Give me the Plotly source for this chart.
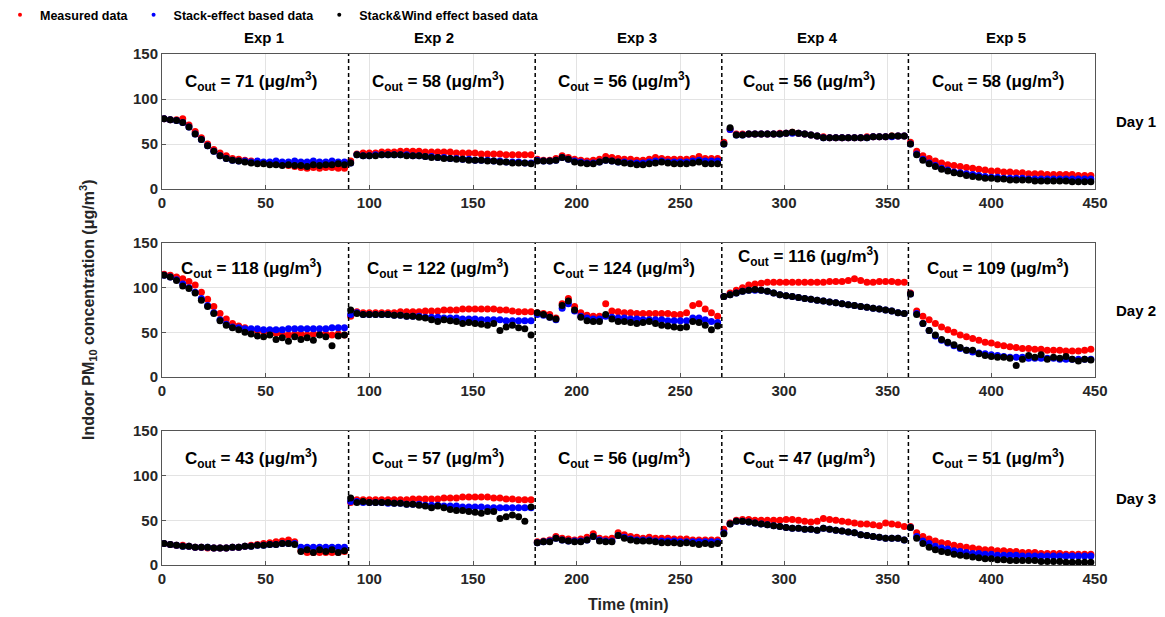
import plotly.graph_objects as go

# ---------------- data ----------------
time_min = list(range(1, 450, 3))  # sample times (min), 3-min steps

measured_day1 = [
    78,77,77,78,71,64,57,50,44,40,37,34,33,32,31,30,29,29,28,27,26,25,24,23,24,23,24,24,23,23,
    31,39,40,40,40,41,41,41,42,42,42,42,41,41,41,41,41,40,40,40,40,39,39,39,39,38,38,38,38,38,
    33,32,32,34,37,35,33,32,31,32,33,36,35,34,33,33,32,32,33,35,34,33,33,33,33,34,36,34,34,34,
    52,66,61,61,61,61,61,61,61,62,62,63,62,61,60,59,58,57,57,57,57,57,57,58,58,58,58,59,59,59,
    52,42,37,34,31,29,27,26,25,24,23,22,21,20,20,19,19,18,18,17,17,17,16,16,16,16,16,15,15,15]
stack_day1 = [
    78,77,76,74,69,61,55,48,42,37,34,32,31,31,30,31,30,30,31,30,30,31,30,30,31,30,30,31,30,30,
    29,38,37,37,38,38,38,38,38,38,37,37,36,36,35,35,34,34,33,33,32,32,32,31,31,30,30,30,29,29,
    32,31,31,32,35,33,31,30,29,29,30,32,31,30,30,29,29,29,30,31,31,30,30,30,30,31,32,31,31,31,
    50,66,60,60,61,61,61,61,61,61,62,62,62,61,60,59,57,57,57,57,57,57,57,57,58,58,58,58,59,59,
    50,39,33,29,26,23,21,19,18,17,16,15,14,13,13,12,12,12,12,11,11,11,11,11,11,11,11,11,11,11]
wind_day1 = [
    78,77,76,74,69,61,55,48,42,37,34,32,31,30,29,28,28,27,27,26,27,26,26,25,27,26,27,27,28,27,
    29,38,37,37,37,38,38,38,38,37,37,37,36,35,35,34,34,33,33,32,32,32,31,31,30,30,29,29,29,28,
    31,31,31,32,35,33,30,29,28,28,30,32,31,30,29,28,27,27,28,29,30,29,28,28,28,29,30,28,28,28,
    50,68,60,60,61,61,61,61,61,61,62,63,62,61,60,59,57,57,57,57,57,57,57,57,58,58,58,59,59,59,
    50,38,32,28,25,22,20,18,17,15,14,13,12,12,11,11,10,10,10,10,9,9,9,9,9,9,8,8,8,8]

measured_day2 = [
    115,114,112,110,107,103,95,87,79,71,65,60,57,55,53,52,51,50,49,48,47,48,48,47,48,48,48,47,48,47,
    68,73,72,72,72,72,72,72,73,73,73,73,74,74,74,75,75,75,76,76,76,76,76,76,75,75,74,73,73,73,
    72,71,70,66,82,88,79,72,69,68,68,82,74,73,72,72,71,71,71,71,71,71,70,70,72,80,82,76,72,68,
    90,94,97,100,103,104,105,106,106,106,106,106,106,106,106,106,106,107,107,107,108,110,108,106,106,107,107,107,106,106,
    94,74,68,64,60,56,53,50,47,45,43,41,39,38,36,35,34,33,32,32,31,31,30,30,30,29,29,29,30,31]
stack_day2 = [
    114,112,109,104,100,95,88,80,72,64,59,56,55,54,54,54,53,53,53,53,54,54,54,54,54,54,54,55,55,55,
    70,72,70,70,70,70,70,69,69,68,68,68,67,67,67,66,66,66,65,65,65,64,64,64,64,63,63,63,63,63,
    70,69,67,64,77,82,74,68,66,65,65,68,67,66,66,65,65,64,64,64,64,63,63,63,63,66,66,64,62,61,
    90,92,94,96,97,97,97,96,94,92,91,90,89,88,87,86,85,84,83,82,81,80,79,78,77,76,75,74,72,71,
    93,71,60,52,46,41,38,35,32,30,28,27,26,25,24,23,22,22,22,21,21,21,21,21,20,20,20,20,20,20]
wind_day2 = [
    114,112,108,102,99,94,86,79,71,63,58,55,53,50,48,46,45,47,42,44,40,45,42,44,41,47,45,35,46,47,
    75,71,70,70,70,70,70,69,69,68,68,67,66,64,62,64,63,62,60,61,60,59,58,60,52,56,58,55,54,47,
    72,70,67,65,80,85,75,67,63,62,62,70,65,62,62,61,60,61,62,60,58,57,56,55,56,62,61,58,53,57,
    90,92,94,96,97,98,97,96,94,92,91,90,89,88,87,86,85,84,83,82,81,80,79,78,77,76,75,74,72,71,
    93,70,60,52,47,42,39,36,33,30,30,26,24,23,22,22,21,13,20,24,22,25,20,22,21,23,20,18,20,19]

measured_day3 = [
    24,23,22,22,21,20,20,19,19,19,19,20,20,21,22,23,24,25,26,27,28,26,16,14,14,14,14,14,14,15,
    70,73,73,73,73,73,73,73,73,73,74,74,74,74,74,75,75,75,76,76,76,76,76,75,75,74,74,73,73,73,
    26,27,28,32,30,29,28,29,31,35,30,29,30,36,34,32,31,30,31,30,30,30,29,29,29,28,28,28,28,28,
    40,47,50,51,51,50,50,50,50,50,51,51,50,49,48,49,52,51,50,49,48,47,46,46,45,44,47,46,45,43,
    43,36,32,29,27,25,24,22,21,20,19,18,17,17,16,16,15,15,14,14,14,13,13,13,13,12,12,12,12,12]
stack_day3 = [
    24,23,22,21,21,20,20,20,19,19,19,20,20,21,21,22,22,23,23,24,24,24,20,20,20,20,20,20,20,20,
    71,71,70,70,70,70,69,69,69,68,68,68,67,67,67,66,66,66,65,65,65,65,64,64,64,64,64,64,64,64,
    25,26,27,30,28,27,27,27,28,32,28,27,27,33,31,29,28,28,28,27,27,27,27,26,26,26,26,26,26,26,
    36,46,49,49,48,47,46,45,44,43,42,41,41,40,40,39,41,40,39,38,37,36,34,33,32,31,30,30,30,28,
    42,32,27,24,21,19,18,16,15,14,13,13,12,12,11,11,11,11,10,10,10,10,10,10,10,10,10,10,10,10]
wind_day3 = [
    24,23,22,21,21,20,20,20,19,19,19,20,20,21,21,22,22,23,23,24,24,23,15,17,14,17,15,17,14,16,
    75,70,71,70,70,70,70,69,69,68,68,67,66,64,66,64,62,61,61,60,59,58,60,60,52,54,56,54,49,65,
    25,26,26,30,28,27,26,26,28,32,27,26,26,33,30,28,27,27,27,26,25,25,25,24,25,24,23,24,23,24,
    35,46,49,49,48,47,46,45,44,43,42,41,41,40,40,39,41,40,39,38,37,36,34,33,32,31,30,30,30,28,
    42,30,24,20,17,15,14,12,11,10,9,8,7,7,6,6,5,5,5,5,5,4,4,4,4,3,3,3,3,3]

day_labels = ["Day 1", "Day 2", "Day 3"]
exp_labels = ["Exp 1", "Exp 2", "Exp 3", "Exp 4", "Exp 5"]
exp_label_x = [49, 131, 229, 316, 407]
exp_bounds = [90, 180, 270, 360]
cout_day1 = [71, 58, 56, 56, 58]
cout_day2 = [118, 122, 124, 116, 109]
cout_day3 = [43, 57, 56, 47, 51]
cout_x = [43, 133, 223, 312, 403]
cout_y_day1 = [119, 119, 119, 119, 119]
cout_y_day2 = [121, 121, 121, 135, 121]
cout_y_day3 = [119, 119, 119, 119, 119]
x_ticks = [0, 50, 100, 150, 200, 250, 300, 350, 400, 450]
y_ticks = [0, 50, 100, 150]
series_names = ["Measured data", "Stack-effect based data", "Stack&Wind effect based data"]
series_colors = ["#ff0000", "#0000ff", "#000000"]

# ---------------- figure ----------------
W, H = 1165, 617
ML, MR, MT, MB = 162, 70, 54, 52
PH = H - MT - MB
PW = W - ML - MR

def py(pix):  # pixel row -> paper y
    return (H - MB - pix) / PH

def px(pix):  # pixel column -> paper x
    return (pix - ML) / PW

panel_px = [(54, 189), (243, 377), (431, 565)]
font_family = "Liberation Sans, Arial, sans-serif"

fig = go.Figure()
days_data = [
    (measured_day1, stack_day1, wind_day1),
    (measured_day2, stack_day2, wind_day2),
    (measured_day3, stack_day3, wind_day3),
]
for i, series in enumerate(days_data):
    xa = "x" if i == 0 else f"x{i+1}"
    ya = "y" if i == 0 else f"y{i+1}"
    for vals, name, col in zip(series, series_names, series_colors):
        fig.add_trace(go.Scatter(
            x=time_min, y=vals, mode="markers", name=name,
            marker=dict(color=col, size=7, line=dict(width=0)),
            xaxis=xa, yaxis=ya, showlegend=False))

# legend-only traces with small dots
for name, col in zip(series_names, series_colors):
    fig.add_trace(go.Scatter(x=[None], y=[None], mode="markers", name=name,
                             marker=dict(color=col, size=4), showlegend=True))

axis_common = dict(
    showline=True, mirror=True, linecolor="#555555", linewidth=1,
    showgrid=True, gridcolor="#e3e3e3", gridwidth=1, zeroline=False,
    ticks="inside", ticklen=4, tickcolor="#555555",
    tickfont=dict(family=font_family, size=15, color="#262626", weight="bold"),
)
layout = dict(
    width=W, height=H,
    margin=dict(l=ML, r=MR, t=MT, b=MB, pad=0, autoexpand=False),
    paper_bgcolor="white", plot_bgcolor="white",
    font=dict(family=font_family, color="black"),
    legend=dict(orientation="h", x=px(0), xanchor="left", y=py(15), yanchor="middle",
                font=dict(family=font_family, size=12.5, color="black", weight="bold"),
                bgcolor="rgba(0,0,0,0)", itemwidth=30, tracegroupgap=0),
)
for i, (top, bot) in enumerate(panel_px):
    sfx = "" if i == 0 else str(i + 1)
    layout["xaxis" + sfx] = dict(axis_common, domain=[0, 1], range=[0, 450],
                                 tickvals=x_ticks, anchor="y" + sfx)
    layout["yaxis" + sfx] = dict(axis_common, domain=[py(bot), py(top)], range=[0, 150],
                                 tickvals=y_ticks, anchor="x" + sfx)
fig.update_layout(**layout)

# dashed separators between experiments
for i in range(3):
    sfx = "" if i == 0 else str(i + 1)
    for b in exp_bounds:
        fig.add_shape(type="line", x0=b, x1=b, y0=0, y1=150, xref="x" + sfx, yref="y" + sfx,
                      line=dict(color="black", width=1.5, dash="4px,3px"))

ann_font = dict(family=font_family, size=17, color="black", weight="bold")
# experiment titles
for lab, xv in zip(exp_labels, exp_label_x):
    fig.add_annotation(x=xv, y=py(37), xref="x", yref="paper", text=lab, showarrow=False,
                       xanchor="center", yanchor="middle",
                       font=dict(family=font_family, size=15, color="black", weight="bold"))
# C_out labels
for i, (couts, ys) in enumerate([(cout_day1, cout_y_day1), (cout_day2, cout_y_day2),
                                 (cout_day3, cout_y_day3)]):
    sfx = "" if i == 0 else str(i + 1)
    for c, xv, yv in zip(couts, cout_x, ys):
        fig.add_annotation(x=xv, y=yv, xref="x" + sfx, yref="y" + sfx, showarrow=False,
                           xanchor="center", yanchor="middle",
                           text=f"C<sub>out</sub> = {c} (μg/m<sup>3</sup>)", font=ann_font)
# day labels
for lab, (top, bot) in zip(day_labels, panel_px):
    fig.add_annotation(x=px(1136), y=py((top + bot) / 2), xref="paper", yref="paper",
                       text=lab, showarrow=False, xanchor="center", yanchor="middle",
                       font=dict(family=font_family, size=15, color="black", weight="bold"))
# axis titles
fig.add_annotation(x=px(88), y=py(310), xref="paper", yref="paper", textangle=-90,
                   xanchor="center", yanchor="middle",
                   text="Indoor PM<sub>10</sub> concentration (μg/m<sup>3</sup>)", showarrow=False,
                   font=dict(family=font_family, size=16, color="#262626", weight="bold"))
fig.add_annotation(x=px(628), y=py(604), xref="paper", yref="paper", text="Time (min)",
                   showarrow=False, xanchor="center", yanchor="middle",
                   font=dict(family=font_family, size=16, color="#262626", weight="bold"))

fig.write_html("out.html")
